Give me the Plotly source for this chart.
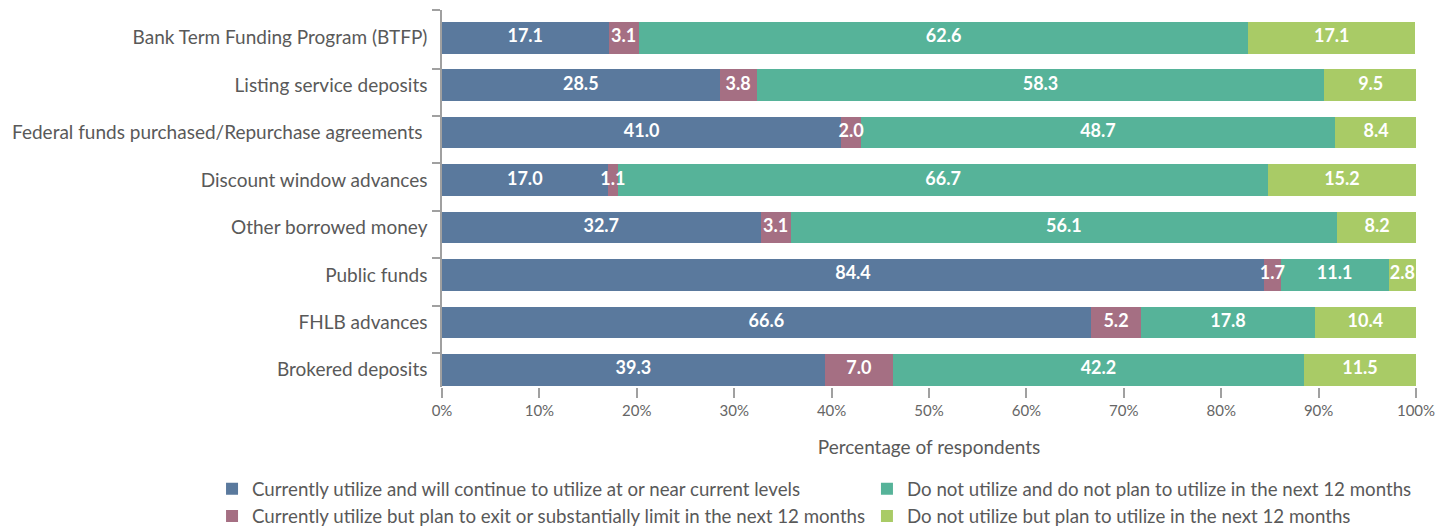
import plotly.graph_objects as go

categories = [
    "Bank Term Funding Program (BTFP)",
    "Listing service deposits",
    "Federal funds purchased/Repurchase agreements ",
    "Discount window advances",
    "Other borrowed money",
    "Public funds",
    "FHLB advances",
    "Brokered deposits",
]
series_names = [
    "Currently utilize and will continue to utilize at or near current levels",
    "Currently utilize but plan to exit or substantially limit in the next 12 months",
    "Do not utilize and do not plan to utilize in the next 12 months",
    "Do not utilize but plan to utilize in the next 12 months",
]
continue_vals = [17.1, 28.5, 41.0, 17.0, 32.7, 84.4, 66.6, 39.3]
exit_vals = [3.1, 3.8, 2.0, 1.1, 3.1, 1.7, 5.2, 7.0]
not_utilize_vals = [62.6, 58.3, 48.7, 66.7, 56.1, 11.1, 17.8, 42.2]
plan_vals = [17.1, 9.5, 8.4, 15.2, 8.2, 2.8, 10.4, 11.5]
x_tick_vals = [0, 10, 20, 30, 40, 50, 60, 70, 80, 90, 100]
x_tick_text = ["0%", "10%", "20%", "30%", "40%", "50%", "60%", "70%", "80%", "90%", "100%"]

colors = ["#5a799d", "#a56f83", "#56b399", "#a9cb66"]
legends = ["legend", "legend", "legend2", "legend2"]
all_vals = [continue_vals, exit_vals, not_utilize_vals, plan_vals]

positions = list(range(len(categories)))
BAR_W = 0.665
Y_RANGE = [7.364, -0.585]
# tick marks drawn at the top edge of each bar (first one at the top of the axis)
tick_marks = [Y_RANGE[1]] + [p - 0.35 for p in positions[1:]]

FONT = "Lato"
fig = go.Figure()
for name, vals, col, lg in zip(series_names, all_vals, colors, legends):
    fig.add_trace(go.Bar(
        y=positions, x=vals, name=name, orientation="h", width=BAR_W,
        marker=dict(color=col, line=dict(width=0)),
        textposition="none",
        legend=lg,
    ))

# value labels on a layer above all bars, centred on each stacked segment
starts = [0.0] * len(categories)
for vals in all_vals:
    mids = [s + v / 2 for s, v in zip(starts, vals)]
    fig.add_trace(go.Scatter(
        x=mids, y=positions, mode="text",
        text=[f"{v:.1f}" for v in vals],
        textposition="middle center",
        textfont=dict(family=FONT, size=18, color="white", weight="bold"),
        showlegend=False, hoverinfo="skip", cliponaxis=False,
    ))
    starts = [s + v for s, v in zip(starts, vals)]

fig.update_layout(
    width=1438, height=519,
    margin=dict(l=434, r=30, t=2, b=140, autoexpand=False),
    barmode="stack",
    plot_bgcolor="white", paper_bgcolor="white",
    font=dict(family=FONT, size=19, color="#595959"),
    xaxis=dict(
        range=[0, 100], tickvals=x_tick_vals, ticktext=x_tick_text,
        showgrid=False, zeroline=False, showline=False,
        ticks="outside", ticklen=10, tickcolor="#a0a0a0", tickwidth=1.5,
        tickfont=dict(size=15, color="#666666"),
        title=dict(text="Percentage of respondents", font=dict(size=19, color="#595959"), standoff=22),
        automargin=False,
    ),
    yaxis=dict(
        range=Y_RANGE, tickmode="array", tickvals=positions, ticktext=categories,
        showgrid=False, zeroline=False, showline=True, linecolor="#a0a0a0", linewidth=1.5,
        ticks="", ticklabelstandoff=9,
        minor=dict(tickmode="array", tickvals=tick_marks, ticks="outside", ticklen=8,
                   tickcolor="#a0a0a0", tickwidth=1.5, showgrid=False),
        tickfont=dict(size=19, color="#595959"),
        automargin=False,
    ),
    legend=dict(
        x=-0.2361, y=-0.2205, xanchor="left", yanchor="top",
        orientation="v", traceorder="normal",
        font=dict(size=18.7, color="#595959"), tracegroupgap=0,
        bgcolor="rgba(0,0,0,0)",
    ),
    legend2=dict(
        x=0.4363, y=-0.2205, xanchor="left", yanchor="top",
        orientation="v", traceorder="normal",
        font=dict(size=18.7, color="#595959"), tracegroupgap=0,
        bgcolor="rgba(0,0,0,0)",
    ),
)

fig.write_html("out.html")
